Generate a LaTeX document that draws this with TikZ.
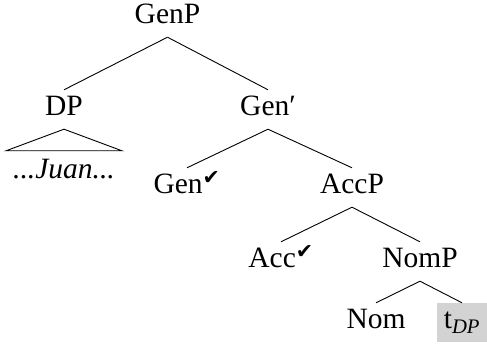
\documentclass[tikz,border=0pt]{standalone}
\usepackage{fontspec}
\setmainfont{Liberation Serif}
\newfontfamily\checkfont{DejaVu Sans}
\usepackage{xcolor}
\definecolor{tracegray}{HTML}{D3D3D3}
\newcommand{\chk}{\textsuperscript{\checkfont ✔}}
\tikzset{
  cat/.style={anchor=base, inner xsep=0pt, inner ysep=6pt, text height=20pt, text depth=7pt},
  branch/.style={draw=black, line width=0.9pt},
  trace/.style={cat, fill=tracegray, minimum width=50pt}
}

\begin{document}
\begin{tikzpicture}[x=1pt, y=-1pt, font=\fontsize{29.5}{35}\selectfont]
  \useasboundingbox (0,0) rectangle (487,344);

  % top level
  \node[cat] (genp) at (167.5,24) {GenP};
  \node[cat] (dp) at (64,116) {DP};
  \node[cat] (genbar) at (268,116) {Gen′};
  \node[cat, inner xsep=7pt, inner ysep=8pt] (juan) at (64,179) {\textit{...Juan...}};

  % lower levels
  \node[cat] (gen) at (187,194) {Gen\chk};
  \node[cat] (accp) at (352,194) {AccP};
  \node[cat] (acc) at (281,268) {Acc\chk};
  \node[cat] (nomp) at (420,268) {NomP};
  \node[cat] (nom) at (376,329) {Nom};
  \node[trace] (tdp) at (462,329) {t\textsubscript{\textit{DP}}};

  \draw[branch] (genp.south) -- (dp.north);
  \draw[branch] (genp.south) -- (genbar.north);
  \draw[branch] (dp.south) -- (juan.north west) -- (juan.north east) -- cycle;
  \draw[branch] (genbar.south) -- (gen.north);
  \draw[branch] (genbar.south) -- (accp.north);
  \draw[branch] (accp.south) -- (acc.north);
  \draw[branch] (accp.south) -- (nomp.north);
  \draw[branch] (nomp.south) -- (nom.north);
  \draw[branch] (nomp.south) -- (tdp.north);
\end{tikzpicture}
\end{document}
